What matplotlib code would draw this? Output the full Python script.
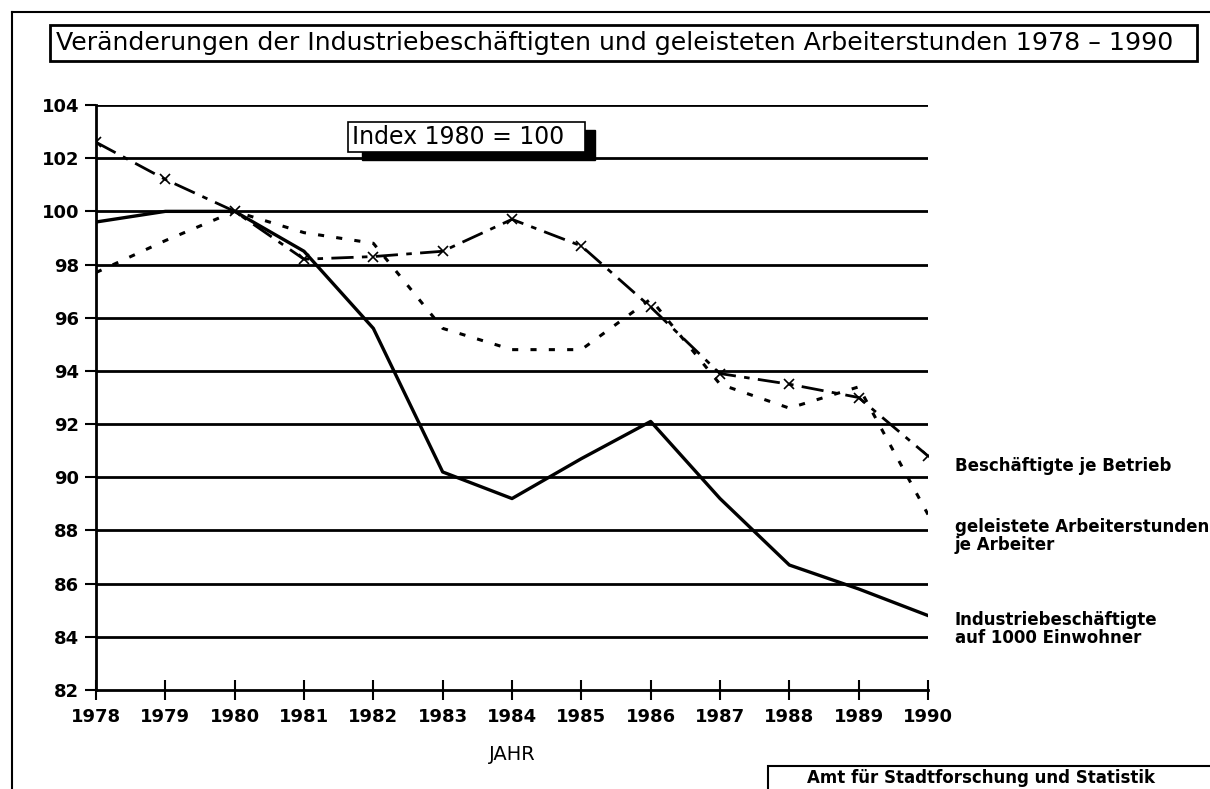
import numpy as np
import matplotlib.pyplot as plt
from matplotlib.patches import Rectangle
from matplotlib.lines import Line2D

plt.rcParams['font.family'] = ['DejaVu Sans']

years = [1978, 1979, 1980, 1981, 1982, 1983, 1984, 1985, 1986, 1987, 1988, 1989, 1990]
industrie = [99.6, 100.0, 100.0, 98.5, 95.6, 90.2, 89.2, 90.7, 92.1, 89.2, 86.7, 85.8, 84.8]
stunden = [97.7, 98.9, 100.0, 99.2, 98.8, 95.6, 94.8, 94.8, 96.7, 93.5, 92.6, 93.4, 88.6]
betrieb = [102.6, 101.2, 100.0, 98.2, 98.3, 98.5, 99.7, 98.7, 96.4, 93.9, 93.5, 93.0, 90.8]
yticks = list(range(82, 105, 2))

fig = plt.figure(figsize=(12.1, 7.89), dpi=100)
ax = fig.add_axes([96 / 1210, 1 - 690 / 789, (928 - 96) / 1210, (690 - 105) / 789])

for y in yticks[1:]:
    ax.axhline(y, color='black', lw=2.0, zorder=1)

ax.plot(years, industrie, color='black', lw=2.4, zorder=3)
ax.plot(years, stunden, color='black', lw=2.2, dashes=(2, 4), zorder=3)
ax.plot(years, betrieb, color='black', lw=2.0, dashes=(8, 3, 2, 3), marker='x',
        markersize=7, markeredgewidth=1.2, zorder=3)

ax.set_xlim(1978, 1990)
ax.set_ylim(82, 104)
ax.set_xticks(years)
ax.set_yticks(yticks)
ax.tick_params(axis='x', direction='inout', length=14, width=1.5, pad=6, labelsize=13)
ax.tick_params(axis='y', direction='out', length=8, width=1.5, pad=4, labelsize=13)
for lbl in ax.get_xticklabels() + ax.get_yticklabels():
    lbl.set_fontweight('bold')
for s in ['top', 'right']:
    ax.spines[s].set_visible(False)
ax.spines['left'].set_linewidth(2)
ax.spines['bottom'].set_linewidth(2)
ax.patch.set_visible(False)

ax.set_xlabel('JAHR', fontsize=14, labelpad=14)

# Index box with shadow
fig.patches.append(Rectangle((362 / 1210, 1 - 160 / 789), 233 / 1210, 30 / 789,
                             transform=fig.transFigure, facecolor='black', edgecolor='black'))
fig.patches.append(Rectangle((348 / 1210, 1 - 152 / 789), 237 / 1210, 30 / 789,
                             transform=fig.transFigure, facecolor='white', edgecolor='black', lw=1.2))
fig.text(352 / 1210, 1 - 137 / 789, 'Index 1980 = 100', fontsize=17, va='center', ha='left')

# title box
fig.patches.append(Rectangle((50 / 1210, 1 - 61 / 789), 1147 / 1210, 36 / 789,
                             transform=fig.transFigure, facecolor='white', edgecolor='black', lw=2))
fig.text(56 / 1210, 1 - 43 / 789,
         'Veränderungen der Industriebeschäftigten und geleisteten Arbeiterstunden 1978 – 1990',
         fontsize=18.2, va='center', ha='left')

# outer frame
fig.add_artist(Line2D([12 / 1210, 1], [1 - 12 / 789, 1 - 12 / 789], transform=fig.transFigure, color='black', lw=1.5))
fig.add_artist(Line2D([12 / 1210, 12 / 1210], [0, 1 - 12 / 789], transform=fig.transFigure, color='black', lw=1.5))

# series labels
fig.text(955 / 1210, 1 - 466 / 789, 'Beschäftigte je Betrieb', fontsize=12, fontweight='bold', va='center')
fig.text(955 / 1210, 1 - 536 / 789, 'geleistete Arbeiterstunden\nje Arbeiter', fontsize=12,
         fontweight='bold', va='center', linespacing=0.95)
fig.text(955 / 1210, 1 - 629 / 789, 'Industriebeschäftigte\nauf 1000 Einwohner', fontsize=12,
         fontweight='bold', va='center', linespacing=0.95)

# source box
fig.patches.append(Rectangle((768 / 1210, -0.01), 450 / 1210, 0.01 + 23 / 789,
                             transform=fig.transFigure, facecolor='white', edgecolor='black', lw=1.5))
fig.text(981 / 1210, 1 - 778 / 789, 'Amt für Stadtforschung und Statistik', fontsize=12,
         fontweight='bold', ha='center', va='center')

fig.savefig('out.png', dpi=100)
